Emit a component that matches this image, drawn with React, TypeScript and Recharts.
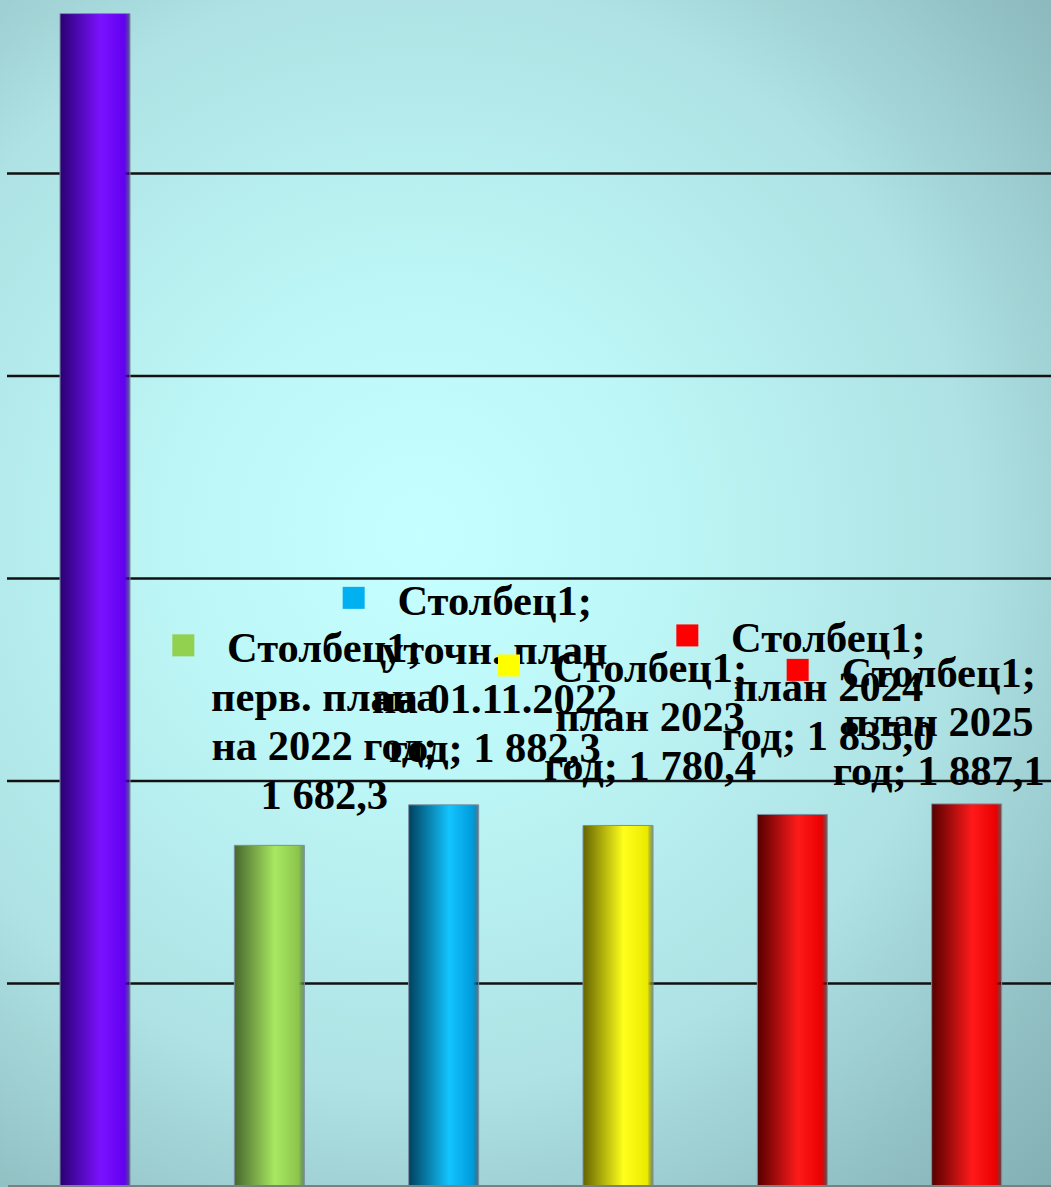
import { Bar, BarChart, CartesianGrid, Cell, LabelList, ReferenceLine, XAxis, YAxis } from "recharts";

const SERIES_NAME = "Столбец1";

const CATEGORIES = [
  "",
  "перв. плана\nна 2022 год",
  "уточн. план\nна 01.11.2022\nгод",
  "план 2023\nгод",
  "план 2024\nгод",
  "план 2025\nгод",
];

const VALUES = [5790, 1682.3, 1882.3, 1780.4, 1835.0, 1887.1];

// whether the bar gets a data label
const SHOW_LABEL = [false, true, true, true, true, true];

const GRID_TICKS = [1000, 2000, 3000, 4000, 5000];

// [left edge, highlight, right edge]
const BAR_GRADIENTS = [
  ["#2a0072", "#7a12ff", "#6200f0"],
  ["#47672c", "#a8e862", "#8cc44c"],
  ["#00415e", "#12c4ff", "#009ada"],
  ["#646400", "#ffff1c", "#eaea00"],
  ["#560000", "#ff1a1a", "#ea0000"],
  ["#560000", "#ff1a1a", "#ea0000"],
];

const KEY_COLORS = ["#7a12ff", "#92d050", "#00b0f0", "#ffff00", "#ff0000", "#ff0000"];

// label placement relative to the top centre of each bar
const LABEL_OFFSETS = [
  { dx: 0, dy: 0 },
  { dx: 55, dy: -183 },
  { dx: 51, dy: -190 },
  { dx: 32, dy: -143 },
  { dx: 36, dy: -162 },
  { dx: -28, dy: -117 },
];

const data = CATEGORIES.map((name, i) => ({ name, value: VALUES[i] }));

function formatValue(v: number) {
  const [int, dec] = v.toFixed(1).split(".");
  return int.replace(/\B(?=(\d{3})+(?!\d))/g, " ") + "," + dec;
}

function labelLines(i: number) {
  const lines = [SERIES_NAME + ";", ...CATEGORIES[i].split("\n")];
  const last = lines.pop() as string;
  const tail = last + "; " + formatValue(VALUES[i]);
  if (tail.length > 14) {
    lines.push(last + ";", formatValue(VALUES[i]));
  } else {
    lines.push(tail);
  }
  return lines;
}

const FONT = '"Liberation Serif", "Times New Roman", serif';

function BarLabel(props: any) {
  const { x, y, width, index } = props;
  if (!SHOW_LABEL[index]) return null;
  const off = LABEL_OFFSETS[index];
  const cx = Number(x) + Number(width) / 2 + off.dx;
  const top = Number(y) + off.dy;
  const lines = labelLines(index);
  return (
    <g>
      <rect x={cx - 152} y={top - 28} width={22} height={22} fill={KEY_COLORS[index]} />
      {lines.map((line, k) => (
        <text
          key={k}
          x={cx}
          y={top + k * 49}
          textAnchor="middle"
          fontFamily={FONT}
          fontWeight="bold"
          fontSize={42.5}
          fill="#000"
        >
          {line}
        </text>
      ))}
    </g>
  );
}

export default function App() {
  return (
    <div
      style={{
        position: "absolute",
        left: 0,
        top: 0,
        width: 1051,
        height: 1187,
        overflow: "hidden",
        background:
          "radial-gradient(ellipse 95% 85% at 40% 45%, #c6ffff 0%, #bdf6f6 25%, #aee2e4 55%, #8ebcc0 80%, #78a4a8 100%)",
      }}
    >
      <BarChart
        width={1054}
        height={1187}
        data={data}
        margin={{ top: 0, right: 0, left: 8, bottom: 1 }}
        barSize={70}
      >
        <defs>
          {BAR_GRADIENTS.map((g, i) => (
            <linearGradient key={i} id={`bar-grad-${i}`} x1="0" y1="0" x2="1" y2="0">
              <stop offset="0%" stopColor={g[0]} />
              <stop offset="58%" stopColor={g[1]} />
              <stop offset="92%" stopColor={g[2]} />
              <stop offset="100%" stopColor={g[0]} stopOpacity={0.6} />
            </linearGradient>
          ))}
        </defs>
        <CartesianGrid
          vertical={false}
          horizontalValues={GRID_TICKS}
          stroke="#111"
          strokeWidth={2.5}
          x={7}
        />
        <XAxis dataKey="name" hide />
        <YAxis hide domain={[0, 5857]} ticks={GRID_TICKS} />
        <ReferenceLine y={0} stroke="#7f7f7f" strokeWidth={2} />
        <Bar dataKey="value" isAnimationActive={false} stroke="#7d8ea0" strokeWidth={1}>
          {data.map((d, i) => (
            <Cell key={i} fill={`url(#bar-grad-${i})`} />
          ))}
          <LabelList dataKey="value" content={BarLabel} />
        </Bar>
      </BarChart>
    </div>
  );
}
